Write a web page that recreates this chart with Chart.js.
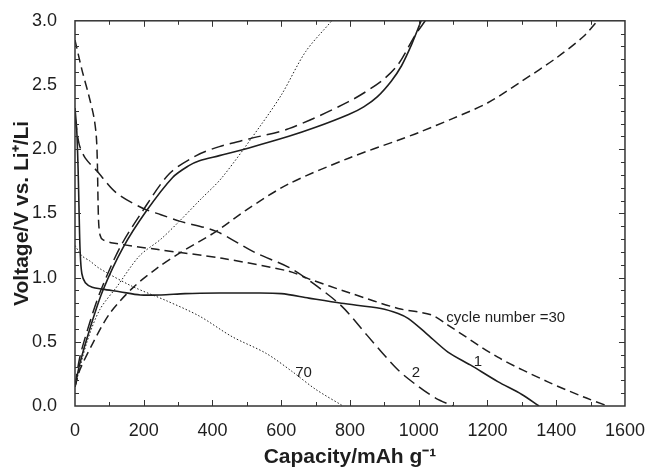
<!DOCTYPE html>
<html>
<head>
<meta charset="utf-8">
<script src="https://cdn.jsdelivr.net/npm/chart.js@4/dist/chart.umd.min.js"></script>
<style>
  body { margin: 0; background: #fff; }
  #wrap { width: 651px; height: 470px; }
</style>
</head>
<body>
<div id="wrap"><canvas id="chart"></canvas></div>
<script>
// capacity (mAh/g) and voltage (V), one pair per half-cycle
const cap1Dis = [0, 5, 9, 12, 15, 20, 30, 50, 80, 130, 190, 250, 320, 420, 520, 600, 680, 775, 890, 940, 970, 1020, 1085, 1150, 1230, 1300, 1350];
const volt1Dis = [2.32, 2.15, 1.85, 1.5, 1.2, 1.03, 0.96, 0.925, 0.91, 0.89, 0.865, 0.865, 0.875, 0.88, 0.88, 0.875, 0.84, 0.80, 0.76, 0.72, 0.68, 0.57, 0.42, 0.32, 0.19, 0.09, 0];
const cap1Chg = [0, 14, 43, 81, 139, 208, 284, 330, 362, 420, 506, 622, 700, 796, 840, 880, 920, 950, 980, 1007];
const volt1Chg = [0.15, 0.33, 0.6, 0.9, 1.23, 1.52, 1.78, 1.87, 1.91, 1.95, 2.01, 2.10, 2.17, 2.27, 2.33, 2.41, 2.53, 2.65, 2.82, 3.0];

const cap2Dis = [0, 12, 30, 64, 120, 197, 250, 304, 411, 520, 622, 680, 775, 850, 940, 1000, 1050, 1100];
const volt2Dis = [2.25, 2.04, 1.93, 1.83, 1.66, 1.54, 1.49, 1.44, 1.36, 1.20, 1.08, 0.98, 0.78, 0.55, 0.28, 0.15, 0.06, 0];
const cap2Chg = [0, 14, 43, 72, 130, 197, 275, 353, 420, 506, 622, 796, 891, 940, 990, 1019];
const volt2Chg = [0.15, 0.38, 0.65, 0.88, 1.23, 1.52, 1.81, 1.95, 2.02, 2.08, 2.16, 2.37, 2.53, 2.66, 2.89, 3.0];

const cap30Dis = [0, 20, 40, 55, 62, 65, 67, 69, 73, 81, 110, 237, 428, 622, 680, 800, 940, 1036, 1085, 1230, 1374, 1480, 1550];
const volt30Dis = [2.85, 2.62, 2.42, 2.25, 2.1, 1.9, 1.6, 1.42, 1.33, 1.295, 1.27, 1.22, 1.15, 1.05, 0.99, 0.88, 0.76, 0.71, 0.63, 0.38, 0.19, 0.07, 0];
const cap30Chg = [0, 14, 52, 101, 168, 237, 304, 411, 500, 622, 796, 940, 1000, 1100, 1200, 1300, 1400, 1480, 1520];
const volt30Chg = [0.15, 0.28, 0.49, 0.72, 0.92, 1.07, 1.19, 1.36, 1.53, 1.73, 1.93, 2.07, 2.13, 2.24, 2.36, 2.53, 2.71, 2.88, 3.0];

const cap70Dis = [0, 20, 43, 72, 168, 266, 362, 457, 556, 631, 700, 780];
const volt70Dis = [1.25, 1.17, 1.13, 1.07, 0.93, 0.82, 0.70, 0.54, 0.41, 0.27, 0.13, 0];
const cap70Chg = [0, 35, 72, 122, 188, 250, 304, 362, 428, 544, 602, 671, 747];
const volt70Chg = [0.15, 0.5, 0.75, 0.93, 1.17, 1.30, 1.44, 1.60, 1.78, 2.20, 2.43, 2.76, 3.0];

// curve labels
const labelText = ['cycle number =30', '1', '2', '70'];
const labelCap = [1253, 1172, 992, 665];
const labelVolt = [0.69, 0.34, 0.26, 0.26];

const FONT = '"Liberation Sans", Arial, sans-serif';
const INK = '#1e1e1e';

function pts(xs, ys) {
  return xs.map((x, i) => ({ x: x, y: ys[i] }));
}

function curve(label, xs, ys, dash, width) {
  return {
    label: label,
    data: pts(xs, ys),
    showLine: true,
    borderColor: INK,
    borderWidth: width,
    borderDash: dash,
    pointRadius: 0,
    fill: false,
    tension: 0.3
  };
}

// frame with inward ticks on all four sides, plus the curve labels
const framePlugin = {
  id: 'frame',
  afterDatasetsDraw(chart) {
    const ctx = chart.ctx;
    const a = chart.chartArea;
    const xs = chart.scales.x;
    const ys = chart.scales.y;
    ctx.save();
    ctx.strokeStyle = '#333';
    ctx.lineWidth = 1.5;
    ctx.strokeRect(a.left, a.top, a.right - a.left, a.bottom - a.top);
    ctx.lineWidth = 1;
    ctx.beginPath();
    for (let v = 100; v < 1600; v += 100) {
      const px = Math.round(xs.getPixelForValue(v)) + 0.5;
      const len = v % 200 === 0 ? 6 : 4;
      ctx.moveTo(px, a.bottom); ctx.lineTo(px, a.bottom - len);
      ctx.moveTo(px, a.top); ctx.lineTo(px, a.top + len);
    }
    for (let i = 1; i < 30; i++) {
      const py = Math.round(ys.getPixelForValue(i / 10)) + 0.5;
      const len = i % 5 === 0 ? 6 : 4;
      ctx.moveTo(a.left, py); ctx.lineTo(a.left + len, py);
      ctx.moveTo(a.right, py); ctx.lineTo(a.right - len, py);
    }
    ctx.stroke();

    ctx.fillStyle = INK;
    ctx.font = '15px ' + FONT;
    ctx.textAlign = 'center';
    ctx.textBaseline = 'middle';
    labelText.forEach((t, i) => {
      ctx.fillText(t, xs.getPixelForValue(labelCap[i]), ys.getPixelForValue(labelVolt[i]));
    });
    ctx.restore();
  }
};

new Chart(document.getElementById('chart'), {
  type: 'scatter',
  data: {
    datasets: [
      curve('1 discharge', cap1Dis, volt1Dis, [], 1.6),
      curve('1 charge', cap1Chg, volt1Chg, [], 1.6),
      curve('2 discharge', cap2Dis, volt2Dis, [13, 6], 1.5),
      curve('2 charge', cap2Chg, volt2Chg, [13, 6], 1.5),
      curve('30 discharge', cap30Dis, volt30Dis, [9, 5], 1.5),
      curve('30 charge', cap30Chg, volt30Chg, [9, 5], 1.5),
      curve('70 discharge', cap70Dis, volt70Dis, [1.5, 2], 1),
      curve('70 charge', cap70Chg, volt70Chg, [1.5, 2], 1)
    ]
  },
  options: {
    responsive: true,
    maintainAspectRatio: false,
    animation: false,
    layout: { padding: { top: 19, right: 23, left: 10, bottom: 0 } },
    plugins: {
      legend: { display: false },
      tooltip: { enabled: false }
    },
    scales: {
      x: {
        type: 'linear',
        min: 0,
        max: 1600,
        grid: { display: false },
        border: { display: false },
        ticks: {
          stepSize: 200,
          color: INK,
          padding: 6,
          font: { family: FONT, size: 18 },
          callback: v => String(v)
        },
        title: {
          display: true,
          text: 'Capacity/mAh g\u207B\u00B9',
          color: INK,
          padding: { top: 2, bottom: 0 },
          font: { family: FONT, size: 21, weight: 'bold' }
        },
        afterFit(scale) { scale.height = 64; }
      },
      y: {
        min: 0,
        max: 3,
        grid: { display: false },
        border: { display: false },
        ticks: {
          stepSize: 0.5,
          color: INK,
          padding: 10,
          font: { family: FONT, size: 18 },
          callback: v => v.toFixed(1)
        },
        title: {
          display: true,
          text: 'Voltage/V vs. Li\u207A/Li',
          color: INK,
          padding: { top: 0, bottom: 4 },
          font: { family: FONT, size: 21, weight: 'bold' }
        },
        afterFit(scale) { scale.width = 65; }
      }
    }
  },
  plugins: [framePlugin]
});
</script>
</body>
</html>
